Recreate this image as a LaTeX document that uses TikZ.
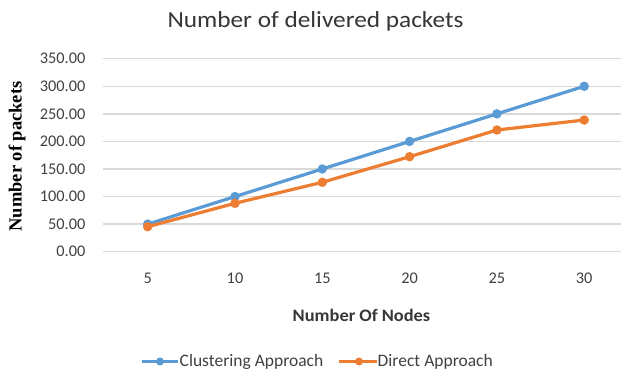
\documentclass[tikz,border=0pt]{standalone}
\usepackage{fontspec}
\setmainfont{Carlito}
\newfontfamily\timesfont{Liberation Serif}
\definecolor{clusterblue}{HTML}{5B9BD5}
\definecolor{directorange}{HTML}{ED7D31}
\definecolor{gridgray}{HTML}{D9D9D9}
\definecolor{labelgray}{HTML}{404040}
\begin{document}
\begin{tikzpicture}[x=1pt,y=-1pt,
  gridline/.style={gridgray,line width=1.4pt},
  ticklabel/.style={text=labelgray,font=\fontsize{16.3}{18}\selectfont,inner sep=0pt},
  series/.style={line width=3.2pt,line join=round,line cap=round},
  marker/.style={circle,fill=#1,inner sep=0pt,minimum size=9.5pt},
  legendtext/.style={text=labelgray,font=\fontsize{17.5}{19}\selectfont,anchor=west,inner sep=0pt}]
\useasboundingbox (0,0) rectangle (623,375);

% horizontal gridlines and value labels
\foreach \v/\t in {0/0.00,50/50.00,100/100.00,150/150.00,200/200.00,250/250.00,300/300.00,350/350.00}{
  \draw[gridline] (103,{251.7-0.5514*\v}) -- (621,{251.7-0.5514*\v});
  \node[ticklabel,anchor=east] (yl\v) at (85.5,{251.7-0.5514*\v}) {\t};
}

% category labels
\foreach \i/\n in {0/5,1/10,2/15,3/20,4/25,5/30}{
  \node[ticklabel] (xl\i) at ({147.7+87.3*\i},278.5) {\n};
}

% title and axis titles
\node[text=labelgray!85!black,font=\fontsize{23}{27}\selectfont,inner sep=0pt,xscale=1.1] (title) at (315.5,21.5) {Number of delivered packets};
\node[text=labelgray!85!black,font=\fontsize{17.5}{19}\selectfont\bfseries,inner sep=0pt,xscale=1.05] (xtitle) at (361.5,315.5) {Number Of Nodes};
\node[rotate=90,font=\timesfont\fontsize{18.5}{20}\selectfont\bfseries,inner sep=0pt] (ytitle) at (17,156.5) {Number of packets};

% data points
\foreach \i/\b/\o in {0/50/45.3,1/100/87.8,2/150/125.9,3/200/172.3,4/250/220.7,5/300/238.8}{
  \coordinate (b\i) at ({147.7+87.3*\i},{251.7-0.5514*\b});
  \coordinate (o\i) at ({147.7+87.3*\i},{251.7-0.5514*\o});
}

% clustering approach series
\draw[series,clusterblue] (b0) -- (b1) -- (b2) -- (b3) -- (b4) -- (b5);
\foreach \i in {0,...,5}{\node[marker=clusterblue] (bm\i) at (b\i) {};}

% direct approach series
\draw[series,directorange] (o0) -- (o1) -- (o2) -- (o3) -- (o4) -- (o5);
\foreach \i in {0,...,5}{\node[marker=directorange] (om\i) at (o\i) {};}

% legend
\coordinate (lb1) at (141.7,361.5);
\coordinate (lb2) at (178.3,361.5);
\draw[clusterblue,line width=2.6pt] (lb1) -- (lb2);
\node[marker=clusterblue,minimum size=8pt] (lbm) at (160,361.5) {};
\node[legendtext] (lbt) at (179.5,362) {Clustering Approach};
\coordinate (lo1) at (339,361.5);
\coordinate (lo2) at (376.7,361.5);
\draw[directorange,line width=2.6pt] (lo1) -- (lo2);
\node[marker=directorange,minimum size=8pt] (lom) at (359,361.5) {};
\node[legendtext] (lot) at (377.5,362) {Direct Approach};
\end{tikzpicture}
\end{document}
